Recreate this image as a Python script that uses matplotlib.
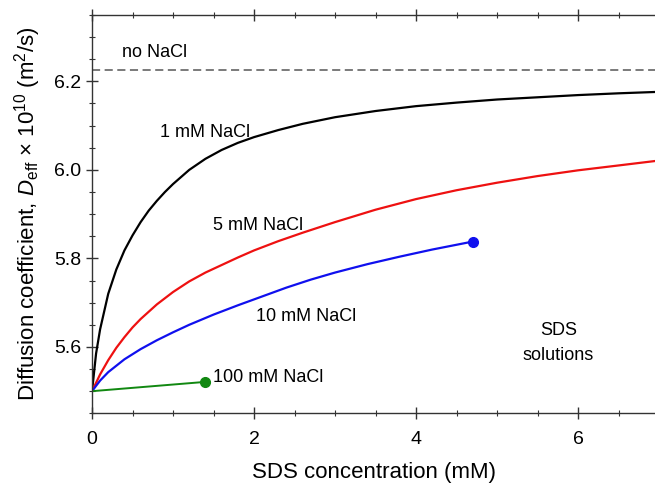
import matplotlib
matplotlib.use("Agg")
import matplotlib.pyplot as plt
from matplotlib.ticker import MultipleLocator

plt.rcParams['font.family'] = ['Liberation Sans', 'DejaVu Sans']
plt.rcParams['mathtext.fontset'] = 'custom'
plt.rcParams['mathtext.rm'] = 'Liberation Sans'
plt.rcParams['mathtext.it'] = 'Liberation Sans:italic'

# values
no_nacl_level = 6.225

x_1mM = [0.0, 0.05, 0.1, 0.2, 0.3, 0.4, 0.5, 0.6, 0.7, 0.8, 0.9, 1.0, 1.2, 1.4,
         1.6, 1.8, 2.0, 2.3, 2.6, 3.0, 3.5, 4.0, 4.5, 5.0, 5.5, 6.0, 6.5, 6.95]
y_1mM = [5.500, 5.585, 5.640, 5.720, 5.775, 5.818, 5.852, 5.882, 5.908, 5.930,
         5.950, 5.968, 6.000, 6.025, 6.045, 6.061, 6.074, 6.090, 6.104, 6.119,
         6.133, 6.144, 6.152, 6.159, 6.164, 6.169, 6.173, 6.176]

x_5mM = [0.0, 0.1, 0.2, 0.3, 0.4, 0.5, 0.6, 0.8, 1.0, 1.2, 1.4, 1.6, 1.8, 2.0,
         2.3, 2.6, 3.0, 3.5, 4.0, 4.5, 5.0, 5.5, 6.0, 6.5, 6.95]
y_5mM = [5.500, 5.538, 5.570, 5.598, 5.622, 5.644, 5.663, 5.696, 5.724, 5.748,
         5.768, 5.785, 5.802, 5.818, 5.839, 5.858, 5.882, 5.910, 5.934, 5.954,
         5.971, 5.986, 5.999, 6.010, 6.020]

x_10mM = [0.0, 0.1, 0.2, 0.4, 0.6, 0.8, 1.0, 1.2, 1.5, 1.8, 2.1, 2.4, 2.7, 3.0,
          3.4, 3.8, 4.2, 4.7]
y_10mM = [5.500, 5.524, 5.543, 5.572, 5.595, 5.615, 5.633, 5.650, 5.673, 5.694,
          5.714, 5.734, 5.752, 5.768, 5.787, 5.804, 5.820, 5.838]

x_100mM = [0.0, 1.40]
y_100mM = [5.50, 5.521]

fig = plt.figure(figsize=(6.55, 4.83), dpi=100)
ax = fig.add_axes([0.1405, 0.1443, 0.8595, 0.8247])

ax.axhline(no_nacl_level, color='#707070', linestyle=(0, (4.5, 2.5)), linewidth=1.3)
ax.plot(x_1mM, y_1mM, color='black', linewidth=1.6)
ax.plot(x_5mM, y_5mM, color='#ee1111', linewidth=1.6)
ax.plot(x_10mM, y_10mM, color='#1010ee', linewidth=1.6)
ax.plot(x_10mM[-1], y_10mM[-1], 'o', color='#1010ee', markersize=7)
ax.plot(x_100mM, y_100mM, color='#118811', linewidth=1.4)
ax.plot(x_100mM[-1], y_100mM[-1], 'o', color='#118811', markersize=7)

fs = 13
ax.text(0.37, 6.265, 'no NaCl', fontsize=fs, va='center')
ax.text(0.84, 6.084, '1 mM NaCl', fontsize=fs, va='center')
ax.text(1.49, 5.875, '5 mM NaCl', fontsize=fs, va='center')
ax.text(2.03, 5.668, '10 mM NaCl', fontsize=fs, va='center')
ax.text(1.49, 5.530, '100 mM NaCl', fontsize=fs, va='center')
ax.text(5.76, 5.637, 'SDS', fontsize=fs, ha='center', va='center')
ax.text(5.76, 5.580, 'solutions', fontsize=fs, ha='center', va='center')

ax.set_xlim(0, 6.95)
ax.set_ylim(5.45, 6.35)
ax.xaxis.set_major_locator(MultipleLocator(2))
ax.xaxis.set_minor_locator(MultipleLocator(0.5))
ax.yaxis.set_major_locator(MultipleLocator(0.2))
ax.yaxis.set_minor_locator(MultipleLocator(0.05))
ax.tick_params(which='both', direction='inout', top=True, right=False,
               colors='#333333', labelcolor='black', labelsize=14)
ax.tick_params(which='major', length=9, width=1)
ax.tick_params(which='minor', length=4, width=0.8)
ax.tick_params(axis='x', pad=8)
ax.tick_params(axis='y', pad=3)
for side in ['left', 'bottom', 'top']:
    ax.spines[side].set_color('#333333')
    ax.spines[side].set_linewidth(1.0)
ax.spines['right'].set_visible(False)

ax.set_xlabel('SDS concentration (mM)', fontsize=16, labelpad=10)
ax.set_ylabel(r'Diffusion coefficient, $D_{\mathrm{eff}}$ $\times$ 10$^{10}$ (m$^2$/s)',
              fontsize=16, labelpad=8)

fig.savefig('out.png', dpi=100)
